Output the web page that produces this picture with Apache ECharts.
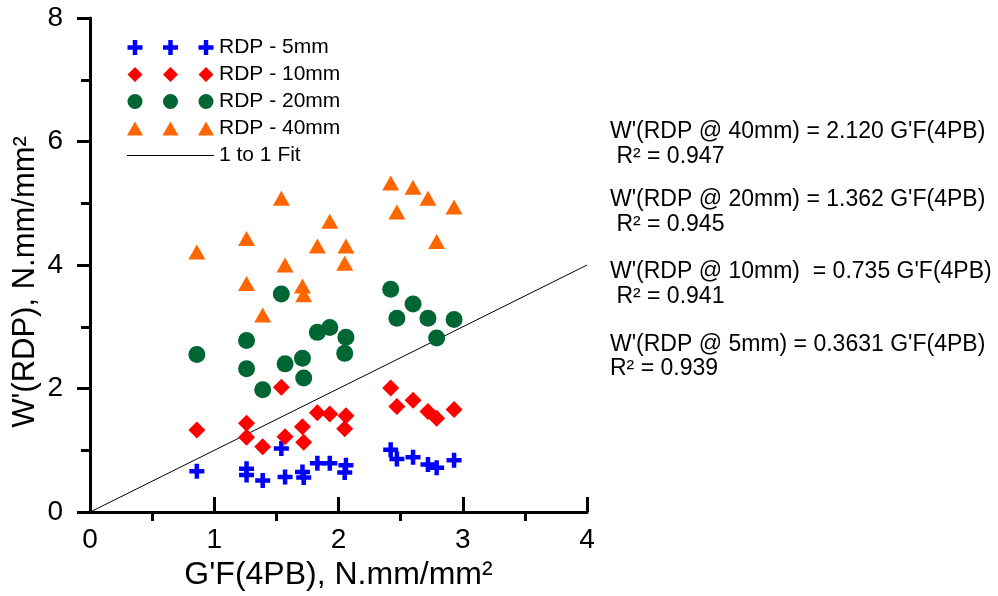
<!DOCTYPE html>
<html>
<head>
<meta charset="utf-8">
<script src="https://cdn.jsdelivr.net/npm/echarts@6/dist/echarts.min.js"></script>
<style>
  html, body { margin: 0; padding: 0; background: #ffffff; }
  #chart { width: 998px; height: 596px; }
</style>
</head>
<body>
<div id="chart"></div>
<script>
// G'F(4PB) of each specimen (shared by all four RDP series)
const gf4pb = [0.86, 1.26, 1.26, 1.39, 1.54, 1.57, 1.71, 1.72, 1.83, 1.93, 2.06, 2.05, 2.42, 2.47, 2.60, 2.72, 2.79, 2.93];

// W'(RDP) at each penetration depth
const rdp5  = [0.66, 0.70, 0.60, 0.51, 1.03, 0.57, 0.65, 0.56, 0.79, 0.79, 0.76, 0.64, 1.01, 0.86, 0.89, 0.77, 0.72, 0.84];
const rdp10 = [1.33, 1.44, 1.21, 1.06, 2.02, 1.22, 1.38, 1.13, 1.61, 1.59, 1.56, 1.35, 2.01, 1.71, 1.81, 1.63, 1.52, 1.66];
const rdp20 = [2.55, 2.78, 2.32, 1.98, 3.53, 2.40, 2.49, 2.17, 2.91, 2.99, 2.83, 2.57, 3.61, 3.14, 3.37, 3.14, 2.82, 3.12];
const rdp40 = [4.21, 4.43, 3.70, 3.19, 5.08, 4.00, 3.66, 3.52, 4.31, 4.71, 4.31, 4.03, 5.33, 4.86, 5.26, 5.08, 4.38, 4.94];

// 1:1 reference line
const fitLine = [[0, 0], [4, 4]];

const seriesNames = ['RDP - 5mm', 'RDP - 10mm', 'RDP - 20mm', 'RDP - 40mm'];
const fitName = '1 to 1 Fit';

const xTicks = [0, 1, 2, 3, 4];
const yTicks = [0, 2, 4, 6, 8];

const xTitle = "G'F(4PB), N.mm/mm\u00b2";
const yTitle = "W'(RDP), N.mm/mm\u00b2";

const equations = [
  "W'(RDP @ 40mm) = 2.120 G'F(4PB)",
  " R\u00b2 = 0.947",
  "W'(RDP @ 20mm) = 1.362 G'F(4PB)",
  " R\u00b2 = 0.945",
  "W'(RDP @ 10mm)  = 0.735 G'F(4PB)",
  " R\u00b2 = 0.941",
  "W'(RDP @ 5mm) = 0.3631 G'F(4PB)",
  "R\u00b2 = 0.939"
];
const equationY = [132, 157, 200, 225, 272, 297, 345, 369];

const FONT = '"Liberation Sans", Arial, sans-serif';

// marker shapes
const crossPath = 'path://M-1.5,-5 H1.5 V-1.5 H5 V1.5 H1.5 V5 H-1.5 V1.5 H-5 V-1.5 H-1.5 Z';

// legend icons: three markers in a row
const iconCenters = [8, 43.5, 79];
function tripleIcon(fn) { return 'path://' + iconCenters.map(fn).join(' '); }
const iconCross = tripleIcon(c =>
  `M${c - 2.25},0 h4.5 v5.25 h5.25 v4.5 h-5.25 v5.25 h-4.5 v-5.25 h-5.25 v-4.5 h5.25 Z`);
const iconDiamond = tripleIcon(c =>
  `M${c},0 L${c + 7.5},7.5 L${c},15 L${c - 7.5},7.5 Z`);
const iconCircle = tripleIcon(c =>
  `M${c - 7.5},7.5 a7.5,7.5 0 1,0 15,0 a7.5,7.5 0 1,0 -15,0 Z`);
const iconTriangle = tripleIcon(c =>
  `M${c},1 L${c + 8},15 L${c - 8},15 Z`);
const iconLine = 'path://M0,0 H87 V1 H0 Z';

function pairs(ys) { return gf4pb.map((x, i) => [x, ys[i]]); }

const chart = echarts.init(document.getElementById('chart'), null, { renderer: 'canvas' });

const tickStyle = { color: '#000', width: 3 };

const option = {
  animation: false,
  backgroundColor: '#ffffff',
  grid: { left: 90, top: 18, width: 497, height: 497, containLabel: false },
  xAxis: [
    {
      type: 'value', min: xTicks[0], max: xTicks[xTicks.length - 1], interval: 1,
      name: xTitle, nameLocation: 'middle', nameGap: 27,
      nameTextStyle: { fontFamily: FONT, fontSize: 32, color: '#000' },
      axisLine: { show: true, onZero: false, lineStyle: { color: '#000', width: 3 } },
      axisTick: { show: true, inside: true, length: 15, lineStyle: tickStyle },
      axisLabel: { fontFamily: FONT, fontSize: 28, color: '#000', margin: 14 },
      splitLine: { show: false }
    },
    {
      // half-unit ticks below the axis line
      type: 'value', min: xTicks[0], max: xTicks[xTicks.length - 1], interval: 1,
      position: 'bottom',
      axisLine: { show: false },
      axisTick: { show: false },
      axisLabel: { show: false },
      splitLine: { show: false },
      minorTick: { show: true, splitNumber: 2, length: 9, lineStyle: tickStyle }
    }
  ],
  yAxis: {
    type: 'value', min: yTicks[0], max: yTicks[yTicks.length - 1], interval: 2,
    axisLine: { show: true, onZero: false, lineStyle: { color: '#000', width: 3 } },
    axisTick: { show: true, inside: false, length: 13, lineStyle: tickStyle },
    minorTick: { show: true, splitNumber: 2, length: 9, lineStyle: tickStyle },
    axisLabel: { fontFamily: FONT, fontSize: 28, color: '#000', margin: 27 },
    splitLine: { show: false }
  },
  legend: {
    orient: 'vertical', left: 122, top: 32,
    itemWidth: 87, itemHeight: 15, itemGap: 6,
    textStyle: { fontFamily: FONT, fontSize: 21, color: '#000' },
    data: [
      { name: seriesNames[0], icon: iconCross },
      { name: seriesNames[1], icon: iconDiamond },
      { name: seriesNames[2], icon: iconCircle },
      { name: seriesNames[3], icon: iconTriangle },
      { name: fitName, icon: iconLine }
    ]
  },
  series: [
    {
      name: fitName, type: 'line', data: fitLine, symbol: 'none',
      lineStyle: { color: '#000', width: 1 }, itemStyle: { color: '#000' }, z: 1
    },
    {
      name: seriesNames[0], type: 'scatter', data: pairs(rdp5),
      symbol: crossPath, symbolSize: 15, itemStyle: { color: '#0000FF', opacity: 1 }, z: 2
    },
    {
      name: seriesNames[1], type: 'scatter', data: pairs(rdp10),
      symbol: 'diamond', symbolSize: 17, itemStyle: { color: '#FF0000', opacity: 1 }, z: 2
    },
    {
      name: seriesNames[2], type: 'scatter', data: pairs(rdp20),
      symbol: 'circle', symbolSize: 17, itemStyle: { color: '#006633', opacity: 1 }, z: 2
    },
    {
      name: seriesNames[3], type: 'scatter', data: pairs(rdp40),
      symbol: 'triangle', symbolSize: [17, 15], itemStyle: { color: '#FF6600', opacity: 1 }, z: 2
    }
  ],
  graphic: [
    {
      type: 'text', x: 25, y: 282, rotation: Math.PI / 2,
      style: { text: yTitle, font: '31px ' + FONT, fill: '#000', align: 'center', verticalAlign: 'middle' }
    }
  ].concat(equations.map((t, i) => ({
    type: 'text', x: 610, y: equationY[i],
    style: { text: t, font: '23px ' + FONT, fill: '#000', verticalAlign: 'middle', align: 'left' }
  })))
};

chart.setOption(option);
</script>
</body>
</html>
